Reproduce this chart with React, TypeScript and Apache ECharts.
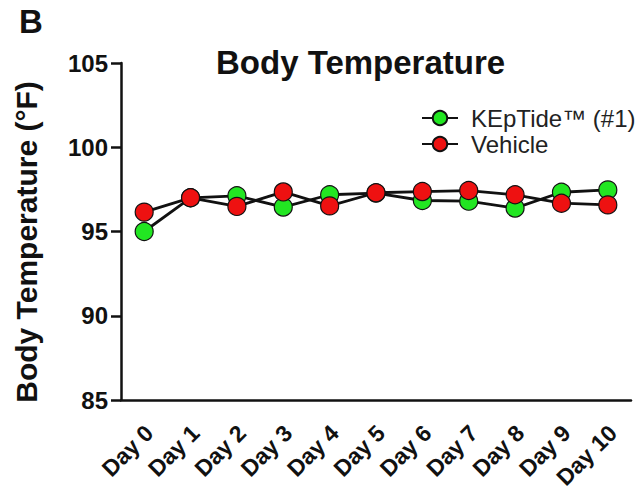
import React, { useEffect, useRef } from "react";
import * as echarts from "echarts";

const categories = ["Day 0", "Day 1", "Day 2", "Day 3", "Day 4", "Day 5", "Day 6", "Day 7", "Day 8", "Day 9", "Day 10"];
const keptideValues = [95.0, 97.0, 97.12, 96.45, 97.18, 97.28, 96.84, 96.8, 96.39, 97.33, 97.47];
const vehicleValues = [96.15, 97.0, 96.49, 97.35, 96.52, 97.3, 97.37, 97.43, 97.18, 96.68, 96.58];
const yTicks = [85, 90, 95, 100, 105];
const legendNames = ["KEpTide™ (#1)", "Vehicle"];

const FONT = 'Arial, "Liberation Sans", Helvetica, sans-serif';

export default function App() {
  const ref = useRef<HTMLDivElement>(null);
  useEffect(() => {
    if (!ref.current) return;
    const chart = echarts.init(ref.current, null, { renderer: "svg" });
    const marker = (color: string) => ({
      type: "line" as const,
      symbol: "circle",
      symbolSize: 18,
      itemStyle: { color, borderColor: "#111", borderWidth: 1.2 },
      lineStyle: { color: "#111", width: 2.8 },
    });
    chart.setOption({
      animation: false,
      backgroundColor: "#fff",
      textStyle: { fontFamily: FONT },
      title: {
        text: "Body Temperature",
        left: 211,
        top: 41,
        textStyle: { fontFamily: FONT, fontWeight: "bold", fontSize: 33, color: "#111" },
      },
      graphic: [
        {
          type: "text",
          left: 19,
          top: 5,
          style: { text: "B", font: `bold 33px ${FONT}`, fill: "#111" },
        },
        {
          type: "text",
          x: 26,
          y: 242,
          rotation: Math.PI / 2,
          style: {
            text: "Body Temperature (°F)",
            font: `bold 30px ${FONT}`,
            fill: "#111",
            textAlign: "center",
            textVerticalAlign: "middle",
          },
        },
      ],
      legend: {
        orient: "vertical",
        left: 416,
        top: 101,
        itemWidth: 36,
        itemHeight: 18,
        itemGap: 2,
        data: legendNames,
        textStyle: {
          fontFamily: FONT,
          fontSize: 24,
          color: "#222",
          padding: [0, 0, 0, 8],
          lineHeight: 24,
        },
      },
      grid: { left: 121, right: 11, top: 63, bottom: 94, containLabel: false },
      xAxis: {
        type: "category",
        data: categories,
        boundaryGap: true,
        axisLine: { lineStyle: { color: "#111", width: 2.5 } },
        axisTick: { alignWithLabel: true, length: 12, lineStyle: { color: "#111", width: 2.5 } },
        axisLabel: {
          rotate: 45,
          margin: 34,
          padding: [0, -7, 0, 0],
          color: "#111",
          fontFamily: FONT,
          fontWeight: "bold",
          fontSize: 23,
          interval: 0,
        },
      },
      yAxis: {
        type: "value",
        min: yTicks[0],
        max: yTicks[yTicks.length - 1],
        interval: 5,
        splitLine: { show: false },
        axisLine: { show: true, lineStyle: { color: "#111", width: 2.5 } },
        axisTick: { show: true, length: 10, lineStyle: { color: "#111", width: 2.5 } },
        axisLabel: {
          margin: 13,
          color: "#111",
          fontFamily: FONT,
          fontWeight: "bold",
          fontSize: 24,
        },
      },
      series: [
        { name: legendNames[0], data: keptideValues, ...marker("#22e622") },
        { name: legendNames[1], data: vehicleValues, ...marker("#ee1111") },
      ],
    });
    return () => chart.dispose();
  }, []);
  return <div ref={ref} style={{ position: "fixed", left: 0, top: 0, width: 642, height: 494 }} />;
}
